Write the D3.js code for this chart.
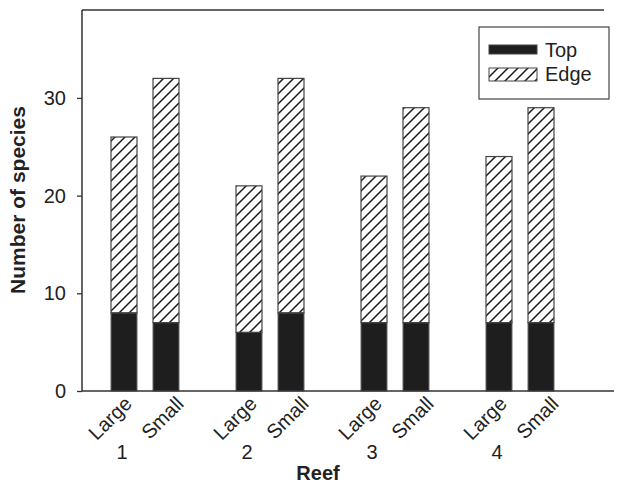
<!DOCTYPE html>
<html>
<head>
<meta charset="utf-8">
<script src="https://cdn.jsdelivr.net/npm/d3@7"></script>
<style>
  body { margin: 0; background: #fff; }
  text { font-family: "Liberation Sans", Arial, sans-serif; fill: #222; }
</style>
</head>
<body>
<div id="chart"></div>
<script>
// data
const reefs = ["1", "2", "3", "4"];
const sizes = ["Large", "Small"];
const topCounts  = [8, 7, 6, 8, 7, 7, 7, 7];
const totalCounts = [26, 32, 21, 32, 22, 29, 24, 29];
const yTicks = [0, 10, 20, 30];

const W = 619, H = 485;
const margin = {top: 10, right: 5, bottom: 94, left: 82};
const innerW = W - margin.left - margin.right,
  innerH = H - margin.top - margin.bottom;

let rows = [];
reefs.forEach(function(r, i) {
  sizes.forEach(function(s, j) {
    const k = i * sizes.length + j;
    rows.push({reef: r, size: s, top: topCounts[k], edge: totalCounts[k] - topCounts[k]});
  });
});

let svg = d3.select("#chart")
  .append("svg")
  .attr("width", W)
  .attr("height", H);

// hatch for the "Edge" part
let defs = svg.append("defs");
defs.append("pattern")
  .attr("id", "hatch")
  .attr("patternUnits", "userSpaceOnUse")
  .attr("width", 10)
  .attr("height", 10)
  .append("path")
  .attr("d", "M-2,2 l4,-4 M0,10 l10,-10 M8,12 l4,-4")
  .attr("stroke", "#1a1a1a")
  .attr("stroke-width", 1.5);

let g = svg.append("g")
  .attr("transform", "translate(" + margin.left + "," + margin.top + ")");

let y = d3.scaleLinear().domain([0, 39]).range([innerH, 0]);
let x0 = d3.scaleBand().domain(reefs).range([0.5, 500.5]);
let x1 = d3.scalePoint().domain(sizes).range([-21, 21]);
const barW = 26;
function cx(d) { return x0(d.reef) + x0.bandwidth() / 2 + x1(d.size); }

// frame: left axis, top line
g.append("line").attr("x1", 0).attr("x2", 0).attr("y1", 0).attr("y2", innerH)
  .attr("stroke", "#333").attr("stroke-width", 1.5);
g.append("line").attr("x1", 0).attr("x2", innerW - 10).attr("y1", 0).attr("y2", 0)
  .attr("stroke", "#333").attr("stroke-width", 1.5);

// y axis
let yAxis = g.append("g")
  .call(d3.axisLeft(y).tickValues(yTicks).tickSize(5).tickPadding(11));
yAxis.select(".domain").remove();
yAxis.selectAll("line").attr("stroke", "#333").attr("stroke-width", 1.3);
yAxis.selectAll("text").style("font-size", "20px").attr("fill", "#222");

// stacked bars
g.selectAll("rect.top")
  .data(rows)
  .enter()
  .append("rect")
  .attr("class", "top")
  .attr("x", function(d) { return cx(d) - barW / 2; })
  .attr("y", function(d) { return y(d.top); })
  .attr("width", barW)
  .attr("height", function(d) { return y(0) - y(d.top); })
  .attr("fill", "#1e1e1e")
  .attr("stroke", "#666")
  .attr("stroke-width", 1);

g.selectAll("rect.edge")
  .data(rows)
  .enter()
  .append("rect")
  .attr("class", "edge")
  .attr("x", function(d) { return cx(d) - barW / 2; })
  .attr("y", function(d) { return y(d.top + d.edge); })
  .attr("width", barW)
  .attr("height", function(d) { return y(d.top) - y(d.top + d.edge); })
  .attr("fill", "url(#hatch)")
  .attr("stroke", "#444")
  .attr("stroke-width", 1.2);

// baseline
g.append("line").attr("x1", 0).attr("x2", innerW).attr("y1", innerH).attr("y2", innerH)
  .attr("stroke", "#333").attr("stroke-width", 1.5);

// rotated size labels
g.selectAll("text.size")
  .data(rows)
  .enter()
  .append("text")
  .attr("class", "size")
  .attr("text-anchor", "end")
  .style("font-size", "20px")
  .attr("transform", function(d) {
    const off = d.size === "Large" ? 9 : 19;
    return "translate(" + (cx(d) + off) + "," + (innerH + 14) + ") rotate(-45)";
  })
  .text(function(d) { return d.size; });

// reef numbers under the Large bars
g.selectAll("text.reef")
  .data(reefs)
  .enter()
  .append("text")
  .attr("class", "reef")
  .attr("text-anchor", "middle")
  .style("font-size", "20px")
  .attr("x", function(r) { return x0(r) + x0.bandwidth() / 2 + x1("Large") - 2; })
  .attr("y", innerH + 68)
  .text(function(r) { return r; });

// axis titles
svg.append("text")
  .attr("text-anchor", "middle")
  .attr("x", 318)
  .attr("y", 480)
  .style("font-size", "20px")
  .style("font-weight", "bold")
  .text("Reef");

svg.append("text")
  .attr("text-anchor", "middle")
  .attr("transform", "translate(25,200) rotate(-90)")
  .style("font-size", "21px")
  .style("font-weight", "bold")
  .text("Number of species");

// legend
let legend = svg.append("g").attr("transform", "translate(479,27)");
legend.append("rect")
  .attr("width", 130).attr("height", 72)
  .attr("fill", "#fff").attr("stroke", "#444").attr("stroke-width", 1.2);
legend.append("rect")
  .attr("x", 10).attr("y", 18).attr("width", 48).attr("height", 9)
  .attr("fill", "#1e1e1e").attr("stroke", "#444");
legend.append("rect")
  .attr("x", 10).attr("y", 41).attr("width", 48).attr("height", 13)
  .attr("fill", "url(#hatch)").attr("stroke", "#444");
legend.append("text").attr("x", 66).attr("y", 30).style("font-size", "20px").text("Top");
legend.append("text").attr("x", 66).attr("y", 54).style("font-size", "20px").text("Edge");
</script>
</body>
</html>
